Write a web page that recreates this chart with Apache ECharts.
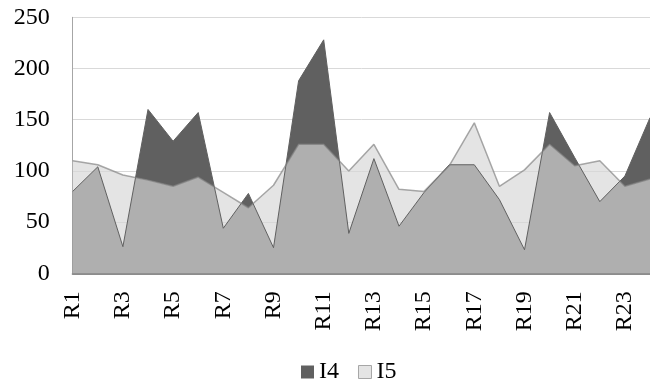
<!DOCTYPE html>
<html>
<head>
<meta charset="utf-8">
<script src="https://cdn.jsdelivr.net/npm/echarts@6/dist/echarts.min.js"></script>
<style>
  html, body { margin: 0; padding: 0; background: #fff; }
  #chart { width: 650px; height: 381px; }
</style>
</head>
<body>
<div id="chart"></div>
<script>
  var categories = ['R1', 'R2', 'R3', 'R4', 'R5', 'R6', 'R7', 'R8', 'R9', 'R10', 'R11', 'R12',
    'R13', 'R14', 'R15', 'R16', 'R17', 'R18', 'R19', 'R20', 'R21', 'R22', 'R23', 'R24'];
  var i4Values = [80, 104, 26, 160, 129, 157, 44, 78, 25, 188, 228, 39,
    112, 46, 79, 106, 106, 72, 23, 157, 113, 70, 95, 152];
  var i5Values = [110, 106, 96, 91, 85, 94, 79, 64, 86, 126, 126, 100,
    126, 82, 80, 105, 147, 85, 101, 126, 105, 110, 85, 92];
  var yTicks = [0, 50, 100, 150, 200, 250];

  var font = 'Liberation Serif';
  var myChart = echarts.init(document.getElementById('chart'));

  myChart.setOption({
    backgroundColor: '#fff',
    animation: false,
    legend: {
      left: 296,
      top: 355,
      icon: 'rect',
      itemWidth: 13,
      itemHeight: 13,
      itemGap: 19,
      textStyle: { fontFamily: font, fontSize: 24, color: '#000' },
      data: [
        { name: 'I4', itemStyle: { color: '#606060' } },
        { name: 'I5', itemStyle: { color: '#e4e4e4', borderColor: '#a6a6a6', borderWidth: 1 } }
      ]
    },
    grid: {
      left: 72.7,
      top: 17.3,
      right: -7.6,
      bottom: 107.7,
      containLabel: false
    },
    xAxis: {
      type: 'category',
      data: categories,
      boundaryGap: false,
      axisLine: { show: true, lineStyle: { color: '#8c8c8c', width: 2 } },
      axisTick: { show: false },
      axisLabel: {
        interval: 1,
        rotate: 90,
        margin: 18,
        fontFamily: font,
        fontSize: 24,
        color: '#000'
      },
      splitLine: { show: false }
    },
    yAxis: {
      type: 'value',
      min: yTicks[0],
      max: yTicks[yTicks.length - 1],
      interval: 50,
      axisLine: { show: true, lineStyle: { color: '#a6a6a6', width: 1 } },
      axisTick: { show: false },
      axisLabel: {
        margin: 23,
        fontFamily: font,
        fontSize: 24,
        color: '#000'
      },
      splitLine: { show: true, lineStyle: { color: '#d9d9d9', width: 1 } }
    },
    series: [
      {
        name: 'I4',
        type: 'line',
        data: i4Values,
        symbol: 'none',
        itemStyle: { color: '#606060' },
        lineStyle: { color: '#606060', width: 1 },
        areaStyle: { color: '#606060', opacity: 1 }
      },
      {
        name: 'I5',
        type: 'line',
        data: i5Values,
        symbol: 'none',
        itemStyle: { color: '#e4e4e4' },
        lineStyle: { color: '#7f7f7f', width: 1.5, opacity: 0.67 },
        areaStyle: { color: '#d7d7d7', opacity: 0.67 }
      }
    ]
  });
</script>
</body>
</html>
